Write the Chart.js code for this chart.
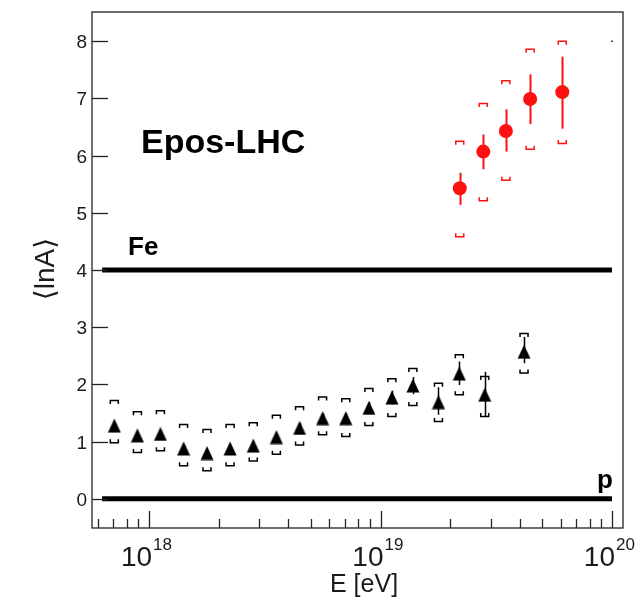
<!DOCTYPE html>
<html>
<head>
<meta charset="utf-8">
<script src="https://cdn.jsdelivr.net/npm/chart.js@4/dist/chart.umd.min.js"></script>
<style>
  html, body { margin: 0; padding: 0; background: #fff; }
</style>
</head>
<body>
<canvas id="c" width="639" height="600"></canvas>
<script>
// low energy points (black triangles)
const energyLow = [7.08e17, 8.91e17, 1.12e18, 1.41e18, 1.78e18, 2.24e18, 2.82e18, 3.55e18, 4.47e18,
  5.62e18, 7.08e18, 8.91e18, 1.12e19, 1.38e19, 1.78e19, 2.19e19, 2.82e19, 4.17e19];
const lnALow = [1.28, 1.11, 1.135, 0.88, 0.80, 0.88, 0.93, 1.08, 1.24, 1.41, 1.41, 1.59, 1.77, 1.98, 1.69, 2.19, 1.82, 2.57];
const lnALowStatHi = [1.34, 1.17, 1.20, 0.94, 0.86, 0.94, 0.99, 1.14, 1.32, 1.49, 1.49, 1.69, 1.89, 2.13, 1.95, 2.40, 2.22, 2.83];
const lnALowStatLo = [1.22, 1.05, 1.08, 0.82, 0.74, 0.82, 0.87, 1.02, 1.16, 1.33, 1.33, 1.49, 1.65, 1.83, 1.47, 1.99, 1.44, 2.37];
const lnALowSysHi = [1.72, 1.52, 1.54, 1.30, 1.21, 1.30, 1.33, 1.46, 1.61, 1.78, 1.75, 1.93, 2.10, 2.28, 2.02, 2.52, 2.14, 2.89];
const lnALowSysLo = [0.98, 0.81, 0.84, 0.58, 0.49, 0.58, 0.66, 0.78, 0.94, 1.12, 1.09, 1.28, 1.44, 1.63, 1.35, 1.82, 1.44, 2.20];

// high energy points (red circles)
const energyHigh = [2.20e19, 2.78e19, 3.48e19, 4.43e19, 6.10e19];
const lnAHigh = [5.43, 6.07, 6.43, 6.99, 7.11];
const lnAHighStatHi = [5.70, 6.37, 6.81, 7.42, 7.73];
const lnAHighStatLo = [5.14, 5.76, 6.07, 6.55, 6.47];
const lnAHighSysHi = [6.25, 6.91, 7.31, 7.86, 8.00];
const lnAHighSysLo = [4.58, 5.21, 5.57, 6.11, 6.21];

// reference lines
const lineRange = [6.27e17, 1e20];
const lnAIron = 4;
const lnAProton = 0;

// axes
const xRange = [5.67e17, 1.116e20];
const yRange = [-0.51, 8.51];
const yTicks = [0, 1, 2, 3, 4, 5, 6, 7, 8];
const xDecades = [1e17, 1e18, 1e19, 1e20];
const xMinorSteps = [2, 3, 4, 5, 6, 7, 8, 9];
const xLabelExp = [18, 19, 20];

const FONT = '"Liberation Sans", "DejaVu Sans", Arial, sans-serif';
const RED = '#ff1010';

function triangleImage() {
  const cv = document.createElement('canvas');
  cv.width = 14;
  cv.height = 15;
  const g = cv.getContext('2d');
  g.fillStyle = '#000';
  g.beginPath();
  g.moveTo(7, 0.5);
  g.lineTo(13.5, 14.5);
  g.lineTo(0.5, 14.5);
  g.closePath();
  g.fill();
  return cv;
}

function pts(xs, ys) {
  return xs.map((x, i) => ({ x: x, y: ys[i] }));
}

function drawBars(ctx, xs, lo, hi, color, width) {
  ctx.strokeStyle = color;
  ctx.lineWidth = width;
  xs.forEach((e, i) => {
    const px = Math.round(chartX(e)) + 0.5;
    ctx.beginPath();
    ctx.moveTo(px, chartY(lo[i]));
    ctx.lineTo(px, chartY(hi[i]));
    ctx.stroke();
  });
}

function drawBrackets(ctx, xs, lo, hi, color) {
  ctx.strokeStyle = color;
  ctx.lineWidth = 1.5;
  const w = 4, leg = 3.5;
  xs.forEach((e, i) => {
    const px = chartX(e);
    const top = chartY(hi[i]);
    const bot = chartY(lo[i]);
    ctx.beginPath();
    ctx.moveTo(px - w, top + leg);
    ctx.lineTo(px - w, top);
    ctx.lineTo(px + w, top);
    ctx.lineTo(px + w, top + leg);
    ctx.moveTo(px - w, bot - leg);
    ctx.lineTo(px - w, bot);
    ctx.lineTo(px + w, bot);
    ctx.lineTo(px + w, bot - leg);
    ctx.stroke();
  });
}

let chartX, chartY;

const rootAxes = {
  id: 'rootAxes',
  beforeDatasetsDraw(chart) {
    const ctx = chart.ctx;
    chartX = (v) => chart.scales.x.getPixelForValue(v);
    chartY = (v) => chart.scales.y.getPixelForValue(v);
    ctx.save();
    drawBars(ctx, energyLow, lnALowStatLo, lnALowStatHi, '#000', 1.5);
    drawBars(ctx, energyHigh, lnAHighStatLo, lnAHighStatHi, RED, 2);
    ctx.restore();
  },
  afterDatasetsDraw(chart) {
    const ctx = chart.ctx;
    ctx.save();
    drawBrackets(ctx, energyLow, lnALowSysLo, lnALowSysHi, '#000');
    drawBrackets(ctx, energyHigh, lnAHighSysLo, lnAHighSysHi, RED);
    ctx.restore();
  },
  afterDraw(chart) {
    const ctx = chart.ctx;
    const a = chart.chartArea;
    const xs = chart.scales.x, ys = chart.scales.y;
    ctx.save();
    ctx.strokeStyle = '#222';
    ctx.lineWidth = 1.3;
    ctx.strokeRect(a.left, a.top, a.right - a.left, a.bottom - a.top);

    // y ticks and labels
    ctx.fillStyle = '#1a1a1a';
    ctx.font = '19px ' + FONT;
    ctx.textAlign = 'right';
    ctx.textBaseline = 'middle';
    yTicks.forEach((t) => {
      const py = Math.round(ys.getPixelForValue(t)) + 0.5;
      ctx.beginPath();
      ctx.moveTo(a.left, py);
      ctx.lineTo(a.left + 16, py);
      ctx.stroke();
      ctx.fillText(String(t), a.left - 5, py + 1);
    });

    // x ticks
    xDecades.forEach((d) => {
      [1].concat(xMinorSteps).forEach((m) => {
        const v = d * m;
        if (v < xRange[0] || v > xRange[1]) return;
        const px = Math.round(xs.getPixelForValue(v)) + 0.5;
        const len = m === 1 ? 17 : 9;
        ctx.beginPath();
        ctx.moveTo(px, a.bottom);
        ctx.lineTo(px, a.bottom - len);
        ctx.stroke();
      });
    });

    // x labels 10^n
    xLabelExp.forEach((n) => {
      const px = xs.getPixelForValue(Math.pow(10, n));
      ctx.textBaseline = 'alphabetic';
      ctx.textAlign = 'right';
      ctx.font = '28px ' + FONT;
      ctx.fillText('10', px + 3, 566);
      ctx.textAlign = 'left';
      ctx.font = '17px ' + FONT;
      ctx.fillText(String(n), px + 4, 550);
    });

    // axis titles
    ctx.font = '25px ' + FONT;
    ctx.textAlign = 'left';
    ctx.fillText('E [eV]', 330, 592);
    ctx.save();
    ctx.translate(54, 269);
    ctx.rotate(-Math.PI / 2);
    ctx.textAlign = 'center';
    ctx.font = '28px ' + FONT;
    ctx.fillText('\u27E8lnA\u27E9', 0, 0);
    ctx.restore();

    // annotations
    ctx.fillStyle = '#000';
    ctx.font = 'bold 34px ' + FONT;
    ctx.fillText('Epos-LHC', 141, 153);
    ctx.font = 'bold 26px ' + FONT;
    ctx.fillText('Fe', 128, 255);
    ctx.fillText('p', 597, 488);
    ctx.restore();
  }
};

new Chart(document.getElementById('c'), {
  type: 'scatter',
  data: {
    datasets: [
      {
        type: 'line',
        data: pts(lineRange, [lnAIron, lnAIron]),
        borderColor: '#000',
        borderWidth: 5,
        pointRadius: 0,
      },
      {
        type: 'line',
        data: pts(lineRange, [lnAProton, lnAProton]),
        borderColor: '#000',
        borderWidth: 5,
        pointRadius: 0,
      },
      {
        data: pts(energyLow, lnALow),
        pointStyle: triangleImage(),
        pointRadius: 7,
      },
      {
        data: pts(energyHigh, lnAHigh),
        pointStyle: 'circle',
        pointRadius: 7,
        backgroundColor: RED,
        borderWidth: 0,
      },
      {
        data: [{ x: 1e20, y: 8 }],
        pointStyle: 'rect',
        pointRadius: 1,
        backgroundColor: '#000',
        borderWidth: 0,
      },
    ],
  },
  options: {
    responsive: false,
    devicePixelRatio: 1,
    animation: false,
    layout: { padding: { left: 92, top: 12, right: 16, bottom: 72 } },
    plugins: { legend: { display: false }, tooltip: { enabled: false } },
    scales: {
      x: { type: 'logarithmic', min: xRange[0], max: xRange[1], display: false },
      y: { type: 'linear', min: yRange[0], max: yRange[1], display: false },
    },
  },
  plugins: [rootAxes],
});
</script>
</body>
</html>
